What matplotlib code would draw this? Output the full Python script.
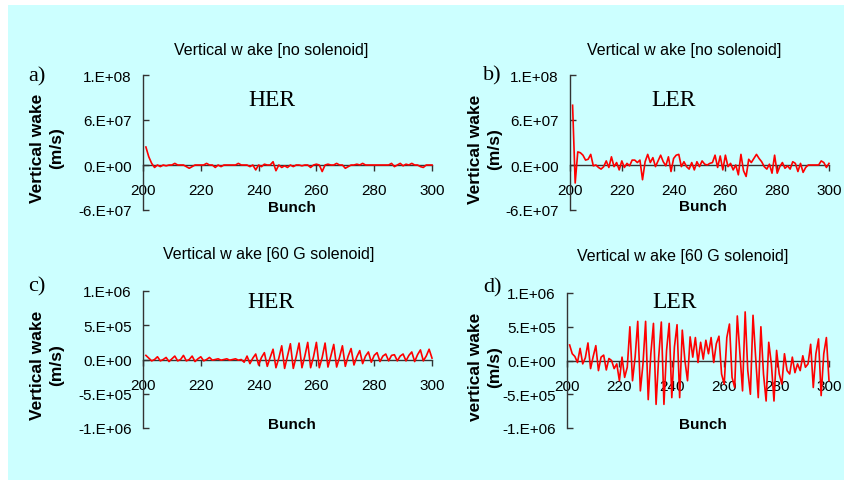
import numpy as np
import matplotlib.pyplot as plt
from matplotlib.patches import Rectangle

W, H = 844, 481

bunch = list(range(201, 301))

# panel a: HER, no solenoid (units of 1e7 m/s)
her_nosol = [2.2, 1.0, 0.2, -0.3, 0.0, -0.2, 0.0, -0.1, 0.0, 0.0,
             0.2, 0.0, 0.0, 0.0, -0.2, -0.4, -0.2, 0.0, 0.0, 0.0,
             0.0, 0.2, 0.0, 0.0, -0.3, 0.0, -0.2, 0.0, 0.0, 0.0,
             0.0, 0.0, 0.2, 0.0, 0.0, 0.0, -0.2, 0.0, -0.6, 0.0,
             -0.2, 0.1, 0.0, 0.0, 0.4, -0.7, 0.0, -0.3, -0.1, -0.3,
             0.0, -0.2, 0.0, 0.0, -0.1, 0.0, 0.0, -0.3, 0.0, 0.1,
             0.0, -0.8, 0.0, 0.1, 0.0, 0.0, 0.2, 0.0, 0.0, -0.4,
             -0.2, 0.0, 0.0, 0.1, 0.0, 0.2, 0.0, 0.0, 0.0, 0.0,
             0.0, 0.0, 0.0, 0.0, 0.0, 0.2, -0.2, 0.0, 0.2, -0.1,
             0.1, 0.0, 0.2, 0.0, 0.0, -0.2, -0.3, 0.0, 0.0, 0.0]

# panel b: LER, no solenoid (units of 1e7 m/s)
ler_nosol = [7.3, -2.2, 1.6, 1.5, 1.2, 0.6, 0.7, 1.3, -0.1, 0.0,
             -0.3, -0.5, -0.2, 0.5, -0.3, 1.0, -0.2, 0.3, -0.6, 0.5,
             -0.3, 0.2, -0.1, 0.6, 0.6, 0.3, 0.6, -1.8, 0.4, 1.3,
             0.3, 0.9, -0.2, 0.5, 1.2, 0.4, -0.1, 1.0, -0.8, 0.8,
             1.2, 1.3, -0.2, 0.4, -0.2, -0.5, 0.3, -0.6, 0.4, -0.2,
             0.5, 0.1, 0.0, 0.2, 0.3, 1.2, -0.3, 1.1, -0.6, 1.2,
             -0.2, 0.2, -0.6, 0.0, -1.2, 1.3, -0.7, -1.4, 0.7, 0.3,
             0.8, 1.3, 0.8, 0.4, -0.2, -0.5, 0.1, -1.0, 1.2, -1.0,
             -0.2, 0.3, -0.4, -0.1, -0.5, 0.4, 0.2, -0.8, 0.2, -0.9,
             -0.3, 0.0, 0.0, 0.0, 0.0, 0.0, 0.5, 0.3, -0.3, 0.2]

# panel c: HER, 60 G solenoid (units of 1e5 m/s)
her_sol = [0.6, 0.2, -0.2, 0.0, 0.4, -0.2, 0.0, 0.3, -0.3, 0.1,
           0.5, -0.2, 0.0, 0.6, -0.2, 0.0, 0.5, -0.3, 0.1, 0.4,
           -0.2, 0.0, 0.3, -0.1, 0.0, 0.1, -0.1, 0.0, 0.1, -0.1,
           0.0, 0.1, -0.1, 0.0, -0.4, 0.5, -0.6, 0.2, 0.8, -0.8,
           0.3, 1.0, -1.0, 0.3, 1.5, -1.2, 0.2, 2.0, -1.3, 0.5,
           2.3, -1.3, 0.4, 2.4, -1.2, 0.5, 2.5, -1.2, 0.4, 2.5,
           -1.2, 0.3, 2.4, -1.1, 0.5, 2.2, -1.1, 0.3, 2.0, -1.0,
           0.5, 1.6, -0.8, 0.4, 1.3, -0.6, 0.5, 1.1, -0.4, 0.6,
           1.0, -0.3, 0.5, 0.8, -0.2, 0.6, 0.7, -0.2, 0.5, 0.8,
           -0.2, 0.6, 1.1, -0.3, 0.7, 1.4, -0.2, 0.5, 1.5, 0.2]

# panel d: LER, 60 G solenoid (units of 1e5 m/s)
ler_sol = [2.3, 1.0, 0.6, -0.3, 1.8, -0.5, 0.4, 2.6, -1.2, 0.6,
           2.2, -1.5, 0.5, 0.8, -1.4, 0.3, 0.0, -1.2, -0.5, -3.0,
           0.5, -2.5, -1.0, 5.0, -3.0, 0.5, 5.8, -4.5, -0.5, 5.8,
           -5.8, 1.0, 5.5, -6.5, 0.5, 5.7, -6.5, 1.5, 5.5, -5.5,
           2.0, 5.3, -5.5, 4.5, 0.0, -3.0, 3.5, 0.5, 3.4, -0.3,
           2.7, 0.2, 3.0, 1.0, 3.4, -0.3, 2.5, 3.6, -2.0, -3.5,
           3.4, 5.4, -2.5, -4.0, 6.6, 1.0, -4.5, 7.2, -1.5, -5.0,
           6.7, 0.5, -5.5, 5.0, -2.0, -6.0, 2.7, -0.5, -6.0, 1.5,
           -2.0, -3.5, 1.0, -1.5, -2.0, 0.5, -1.8, -0.5, -1.5, 0.7,
           -1.0, -0.5, 2.4, -4.0, 1.0, 3.2, -5.2, 1.0, 3.4, -3.0]

xticks = [200, 220, 240, 260, 280, 300]
yticks_big = [-5.5e7, 0, 5.5e7, 1.1e8]
ylabels_big = ['-6.E+07', '0.E+00', '6.E+07', '1.E+08']
yticks_small = [-1e6, -5e5, 0, 5e5, 1e6]
ylabels_small = ['-1.E+06', '-5.E+05', '0.E+00', '5.E+05', '1.E+06']

SANS = 'Liberation Sans'
SERIF = 'Liberation Serif'


def fx(px):
    return px / W


def fy(py):
    return 1 - py / H


def make_axes(fig, x0, x1, ytop, ybot, y, scale, ticks, labels):
    ax = fig.add_axes([fx(x0), fy(ybot), (x1 - x0) / W, (ybot - ytop) / H])
    ax.set_facecolor('none')
    ax.plot(bunch, np.array(y) * scale, color='#ff0000', lw=1.2, zorder=3,
            clip_on=False)
    ax.set_xlim(200, 300)
    ax.set_ylim(ticks[0], ticks[-1])
    ax.set_xticks(xticks)
    ax.set_yticks(ticks)
    ax.set_yticklabels(labels)
    for s in ['top', 'right']:
        ax.spines[s].set_visible(False)
    ax.spines['bottom'].set_position(('data', 0))
    for s in ['left', 'bottom']:
        ax.spines[s].set_color('#333333')
        ax.spines[s].set_linewidth(1.0)
    ax.tick_params(axis='y', direction='in', length=4, width=1.0,
                   color='#333333', pad=8, labelsize=11)
    ax.tick_params(axis='x', direction='out', length=4, width=1.0,
                   color='#333333', pad=9, labelsize=11)
    for t in ax.get_xticklabels() + ax.get_yticklabels():
        t.set_fontfamily(SANS)
    return ax


fig = plt.figure(figsize=(W / 100, H / 100), dpi=100)
fig.patches.append(Rectangle((fx(8), 0), 1 - fx(8), fy(6), transform=fig.transFigure,
                             facecolor='#ccffff', edgecolor='none', zorder=-10))

make_axes(fig, 143, 432, 76, 211, her_nosol, 1e7, yticks_big, ylabels_big)
make_axes(fig, 570, 829, 76, 211, ler_nosol, 1e7, yticks_big, ylabels_big)
make_axes(fig, 143, 432, 292, 429, her_sol, 1e5, yticks_small, ylabels_small)
make_axes(fig, 567, 829, 294, 429, ler_sol, 1e5, yticks_small, ylabels_small)

# titles
fig.text(fx(271), fy(50), 'Vertical w ake [no solenoid]', ha='center', va='center',
         fontsize=11.5, family=SANS)
fig.text(fx(684), fy(50), 'Vertical w ake [no solenoid]', ha='center', va='center',
         fontsize=11.5, family=SANS)
fig.text(fx(269), fy(254), 'Vertical w ake [60 G solenoid]', ha='center', va='center',
         fontsize=11.5, family=SANS)
fig.text(fx(683), fy(256), 'Vertical w ake [60 G solenoid]', ha='center', va='center',
         fontsize=11.5, family=SANS)

# panel letters
for lbl, px, py in [('a)', 37, 77), ('b)', 492, 76), ('c)', 37, 287), ('d)', 492, 288)]:
    fig.text(fx(px), fy(py), lbl, ha='center', va='center', fontsize=16, family=SERIF)

# ring names
for lbl, px, py in [('HER', 272, 100), ('LER', 674, 100), ('HER', 271, 302), ('LER', 675, 303)]:
    fig.text(fx(px), fy(py), lbl, ha='center', va='center', fontsize=17, family=SERIF)

# x labels
for px, py in [(292, 208), (703, 207), (292, 425), (703, 425)]:
    fig.text(fx(px), fy(py), 'Bunch', ha='center', va='center', fontsize=11,
             fontweight='bold', family=SANS)

# y labels
for lbl, px, py in [('Vertical wake\n(m/s)', 47, 148), ('Vertical wake\n(m/s)', 485, 149),
                    ('Vertical wake\n(m/s)', 47, 365), ('vertical wake\n(m/s)', 485, 367)]:
    fig.text(fx(px), fy(py), lbl, ha='center', va='center', rotation=90, fontsize=12.5,
             fontweight='bold', family=SANS, linespacing=1.4)

fig.savefig('out.png', dpi=100, facecolor='white')
